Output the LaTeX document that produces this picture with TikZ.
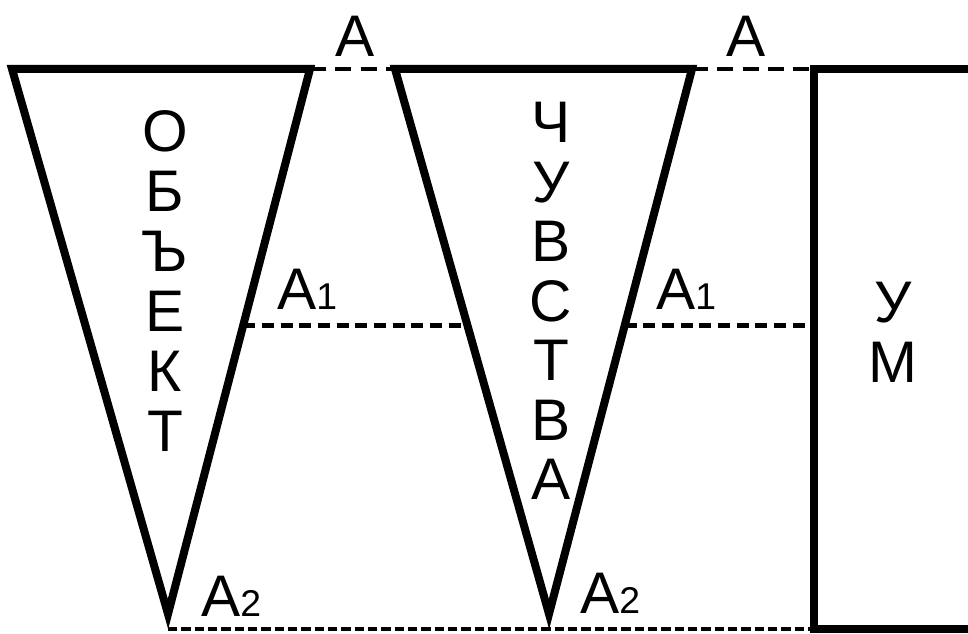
\documentclass[tikz,border=0pt]{standalone}
\usepackage{fontspec}
\setmainfont{Liberation Sans}
\usetikzlibrary{calc}
\newcommand{\subidx}[1]{{\fontsize{28}{28}\selectfont #1}}

\begin{document}
\begin{tikzpicture}[x=0.75pt,y=-0.75pt,
  outline/.style={line width=6pt,line join=miter},
  guide/.style={line width=3.6pt,dash pattern=on 9pt off 5pt},
  topguide/.style={line width=3.6pt,dash pattern=on 12pt off 7pt},
  baseguide/.style={line width=3.6pt,dash pattern=on 7pt off 3pt},
  letter/.style={font=\fontsize{44}{45}\selectfont,inner sep=0pt,anchor=base},
  ptlabel/.style={font=\fontsize{44}{45}\selectfont,inner sep=0pt,anchor=base west}]
\useasboundingbox (0,0) rectangle (968,634);
% ---- vertices ----
\coordinate (o1) at (12,69);  \coordinate (o2) at (310,69);  \coordinate (o3) at (168,614);
\coordinate (f1) at (395,69); \coordinate (f2) at (692,69);  \coordinate (f3) at (549,614);
\coordinate (m1) at (814,69); \coordinate (m2) at (814,629);
% ---- level A1 on the sides ----
\coordinate (o2a) at ($(o2)!0.47!(o3)$);
\coordinate (f1a) at ($(f1)!0.47!(f3)$);
\coordinate (f2a) at ($(f2)!0.47!(f3)$);
% ---- guide lines (under the shapes) ----
\draw[topguide] (o2) -- (f1);
\draw[topguide] (f2) -- (m1);
\draw[guide] (o2a) -- (f1a);
\draw[guide] (f2a) -- (m1 |- f2a);
\draw[baseguide] (o3 |- m2) -- (m2);
% ---- object, senses, mind ----
\draw[outline] (o1) -- (o2) -- (o3) -- cycle;
\draw[outline] (f1) -- (f2) -- (f3) -- cycle;
\draw[outline] (968,69) -- (m1) -- (m2) -- (968,629);
% ---- vertical words ----
\foreach \ch [count=\i] in {О,Б,Ъ,Е,К,Т}
  \node[letter] (obj\i) at (165,{152+60*(\i-1)}) {\ch};
\foreach \ch [count=\i] in {Ч,У,В,С,Т,В,А}
  \node[letter] (sns\i) at (551,{143+59.5*(\i-1)}) {\ch};
\foreach \ch [count=\i] in {У,М}
  \node[letter] (mnd\i) at (893,{323+60*(\i-1)}) {\ch};
% ---- point labels ----
\node[letter] (a0) at (355,57) {A};
\node[letter] (b0) at (746,57) {A};
\node[ptlabel] (a1) at (277,310) {A\subidx{1}};
\node[ptlabel] (b1) at (656,310) {A\subidx{1}};
\node[ptlabel] (a2) at (201,616) {A\subidx{2}};
\node[ptlabel] (b2) at (580,614) {A\subidx{2}};
\end{tikzpicture}
\end{document}
